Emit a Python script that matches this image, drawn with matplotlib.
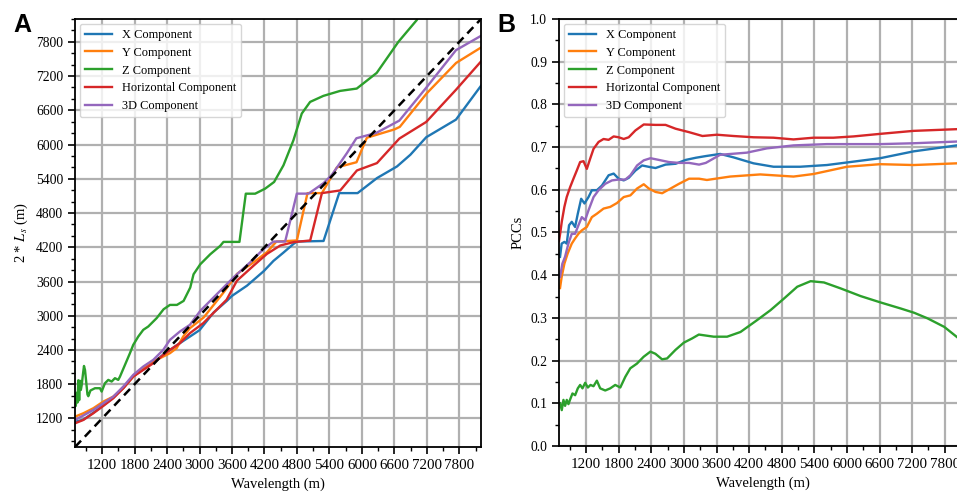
import matplotlib
matplotlib.use("Agg")
import matplotlib.pyplot as plt
from matplotlib.ticker import MultipleLocator, FormatStrFormatter

# ---------------- Panel A data ----------------
ax_x = [700, 854, 1038, 1223, 1407, 1592, 1776, 1961, 2146, 2330, 2454, 2638, 2831, 3000, 3138,
        3260, 3508, 3600, 3877, 4185, 4366, 4551, 4738, 4800, 5291, 5580, 5920, 6278, 6648, 6895,
        7188, 7738, 8200]
ax_y = [1140, 1180, 1300, 1430, 1565, 1735, 1940, 2060, 2180, 2320, 2400, 2520, 2640, 2747, 2911,
        3056, 3263, 3348, 3527, 3780, 3961, 4107, 4260, 4300, 4310, 5149, 5149, 5412, 5616, 5821,
        6128, 6437, 7030]

ay_x = [700, 854, 1038, 1223, 1407, 1592, 1776, 1961, 2146, 2330, 2454, 2577, 2699, 2823, 3077,
        3446, 3692, 4000, 4246, 4420, 4798, 4995, 5261, 5538, 5900, 6092, 6600, 6700, 7200, 7740, 8200]
ay_y = [1232, 1291, 1379, 1496, 1583, 1730, 1934, 2081, 2197, 2285, 2344, 2432, 2636, 2783, 2970,
        3410, 3733, 3938, 4114, 4300, 4319, 5149, 5149, 5600, 5690, 6120, 6265, 6310, 6900, 7430, 7700]

az_x = [700, 715, 731, 746, 762, 777, 792, 808, 823, 850, 866, 885, 903, 930, 946, 985, 1069, 1161,
        1192, 1254, 1315, 1377, 1438, 1499, 1531, 1623, 1715, 1776, 1869, 1961, 2053, 2208, 2337,
        2454, 2583, 2706, 2829, 2890, 3014, 3198, 3382, 3443, 3738, 3855, 4028, 4212, 4378, 4551,
        4735, 4889, 5043, 5289, 5597, 5905, 6274, 6674, 7012, 7200]
az_y = [1500, 1420, 1650, 1480, 1870, 1520, 1860, 1700, 1780, 2000, 2120, 2050, 1880, 1620, 1590,
        1690, 1730, 1730, 1671, 1818, 1876, 1847, 1906, 1876, 1934, 2139, 2344, 2490, 2636, 2753,
        2811, 2958, 3114, 3190, 3190, 3260, 3494, 3727, 3902, 4077, 4224, 4294, 4294, 5139, 5139,
        5227, 5344, 5636, 6075, 6543, 6747, 6853, 6940, 6981, 7256, 7800, 8180, 8500]

ah_x = [700, 854, 1038, 1223, 1407, 1592, 1776, 1961, 2146, 2330, 2454, 2638, 2823, 3069, 3315,
        3500, 3692, 4000, 4246, 4492, 4738, 5045, 5261, 5600, 5908, 6278, 6692, 7188, 7738, 8200]
ah_y = [1115, 1174, 1291, 1420, 1554, 1730, 1934, 2051, 2168, 2314, 2402, 2519, 2695, 2870, 3104,
        3280, 3615, 3879, 4084, 4231, 4290, 4319, 5149, 5196, 5546, 5675, 6105, 6396, 6960, 7456]

a3_x = [700, 854, 1038, 1223, 1407, 1592, 1776, 1961, 2146, 2330, 2454, 2638, 2823, 3015, 3323,
        3631, 3938, 4185, 4366, 4582, 4798, 5014, 5291, 5446, 5723, 5898, 6265, 6692, 7188, 7738, 8200]
a3_y = [1174, 1252, 1349, 1466, 1583, 1759, 1964, 2110, 2227, 2402, 2578, 2724, 2841, 3087, 3381,
        3674, 3938, 4172, 4300, 4300, 5140, 5140, 5324, 5470, 5850, 6110, 6204, 6420, 6996, 7654, 7905]

# ---------------- Panel B data ----------------
bx_x = [719, 749, 799, 842, 885, 935, 996, 1046, 1108, 1169, 1243, 1305, 1397, 1490, 1613, 1706,
        1798, 1891, 1983, 2106, 2230, 2384, 2476, 2661, 2847, 3032, 3217, 3402, 3666, 3911, 4280,
        4648, 5139, 5630, 6000, 6611, 7225, 8022, 8200]
bx_y = [0.443, 0.474, 0.478, 0.474, 0.517, 0.525, 0.513, 0.544, 0.579, 0.568, 0.583, 0.599, 0.599,
        0.610, 0.634, 0.638, 0.626, 0.622, 0.628, 0.645, 0.657, 0.653, 0.651, 0.659, 0.661, 0.670,
        0.675, 0.679, 0.684, 0.676, 0.662, 0.654, 0.654, 0.658, 0.664, 0.674, 0.690, 0.704, 0.706]

by_x = [719, 749, 799, 860, 935, 996, 1058, 1120, 1212, 1305, 1397, 1520, 1644, 1767, 1891, 2014,
        2137, 2260, 2353, 2476, 2599, 2754, 2908, 3093, 3278, 3422, 3850, 4403, 5016, 5384, 6000,
        6611, 7225, 8022, 8200]
by_y = [0.37, 0.396, 0.427, 0.451, 0.474, 0.486, 0.497, 0.505, 0.513, 0.536, 0.544, 0.556, 0.560,
        0.569, 0.583, 0.587, 0.603, 0.613, 0.603, 0.595, 0.592, 0.603, 0.614, 0.626, 0.626, 0.623,
        0.631, 0.636, 0.631, 0.637, 0.654, 0.660, 0.658, 0.662, 0.662]

bz_x = [720, 751, 782, 812, 843, 874, 905, 948, 997, 1046, 1089, 1132, 1182, 1231, 1280, 1335,
        1397, 1458, 1551, 1643, 1735, 1828, 1920, 2012, 2135, 2258, 2382, 2474, 2597, 2689, 2843,
        2997, 3151, 3274, 3548, 3794, 4040, 4348, 4592, 4838, 5085, 5331, 5577, 5885, 6253, 6623,
        6990, 7237, 7482, 7790, 8036, 8200]
bz_y = [0.100, 0.084, 0.108, 0.094, 0.108, 0.098, 0.109, 0.123, 0.119, 0.135, 0.143, 0.135, 0.148,
        0.137, 0.143, 0.140, 0.153, 0.135, 0.130, 0.135, 0.143, 0.137, 0.162, 0.182, 0.193, 0.209,
        0.221, 0.216, 0.203, 0.205, 0.225, 0.242, 0.252, 0.261, 0.256, 0.256, 0.267, 0.295, 0.318,
        0.345, 0.373, 0.386, 0.383, 0.369, 0.351, 0.336, 0.322, 0.312, 0.299, 0.279, 0.254, 0.240]

bh_x = [700, 722, 752, 799, 842, 904, 966, 1027, 1089, 1151, 1212, 1274, 1336, 1428, 1520, 1613,
        1706, 1798, 1891, 1983, 2106, 2260, 2476, 2661, 2847, 3093, 3340, 3605, 3911, 4280, 4648,
        5016, 5384, 5750, 6120, 6611, 7225, 8022, 8200]
bh_y = [0.48, 0.498, 0.526, 0.560, 0.583, 0.606, 0.626, 0.645, 0.665, 0.667, 0.649, 0.673, 0.696,
        0.712, 0.719, 0.717, 0.725, 0.723, 0.719, 0.723, 0.739, 0.753, 0.752, 0.752, 0.743, 0.735,
        0.726, 0.729, 0.726, 0.723, 0.722, 0.718, 0.722, 0.722, 0.725, 0.731, 0.738, 0.742, 0.743]

b3_x = [719, 762, 811, 873, 935, 996, 1058, 1120, 1181, 1243, 1336, 1428, 1551, 1675, 1798, 1921,
        2014, 2137, 2260, 2384, 2538, 2723, 2908, 3093, 3278, 3402, 3666, 4157, 4525, 5016, 5630,
        6611, 7225, 8022, 8200]
b3_y = [0.396, 0.427, 0.443, 0.474, 0.497, 0.497, 0.517, 0.536, 0.529, 0.552, 0.583, 0.599, 0.614,
        0.622, 0.624, 0.624, 0.634, 0.657, 0.669, 0.674, 0.670, 0.665, 0.663, 0.663, 0.659, 0.663,
        0.682, 0.687, 0.697, 0.704, 0.707, 0.707, 0.709, 0.713, 0.713]

labels = ["X Component", "Y Component", "Z Component", "Horizontal Component", "3D Component"]
colors = ["#1f77b4", "#ff7f0e", "#2ca02c", "#d62728", "#9467bd"]
xlim = (700, 8200)
major_x = 600
minor_x = 300

plt.rcParams['font.family'] = ['Liberation Serif', 'DejaVu Serif']
plt.rcParams['mathtext.fontset'] = 'stix'

fig = plt.figure(figsize=(9.57, 4.97), dpi=100)
axA = fig.add_axes([75 / 957, 50 / 497, 406 / 957, 428 / 497])
axB = fig.add_axes([559 / 957, 51 / 497, 407.5 / 957, 427 / 497])


def style(ax):
    ax.grid(True, which='major', color='#b0b0b0', linewidth=1.6)
    ax.set_axisbelow(True)
    ax.xaxis.set_major_locator(MultipleLocator(major_x))
    ax.xaxis.set_minor_locator(MultipleLocator(minor_x))
    ax.tick_params(which='major', length=5, width=1.2, direction='out')
    ax.tick_params(which='minor', length=3, width=1.0, direction='out')
    ax.tick_params(axis='x', which='major', labelsize=10.8)
    ax.tick_params(axis='y', which='major', labelsize=9.8)
    for s in ax.spines.values():
        s.set_linewidth(1.3)
    ax.set_xlabel("Wavelength (m)", fontsize=10.5)


def add_legend(ax):
    ax.legend(loc='upper left', fontsize=8.9, labelspacing=0.47, handlelength=2.2,
              borderaxespad=0.4, framealpha=0.8)


# Panel A
seriesA = [(ax_x, ax_y), (ay_x, ay_y), (az_x, az_y), (ah_x, ah_y), (a3_x, a3_y)]
for (xs, ys), c, lab in zip(seriesA, colors, labels):
    axA.plot(xs, ys, color=c, lw=1.7, label=lab)
axA.plot(xlim, xlim, color='black', lw=1.8, linestyle=(0, (3.5, 2.2)))
axA.set_xlim(*xlim)
axA.set_ylim(*xlim)
style(axA)
axA.yaxis.set_major_locator(MultipleLocator(600))
axA.yaxis.set_minor_locator(MultipleLocator(200))
axA.set_ylabel("2 * $L_s$ (m)", fontsize=10.5)
add_legend(axA)

# Panel B
seriesB = [(bx_x, bx_y), (by_x, by_y), (bz_x, bz_y), (bh_x, bh_y), (b3_x, b3_y)]
for (xs, ys), c, lab in zip(seriesB, colors, labels):
    axB.plot(xs, ys, color=c, lw=1.7, label=lab)
axB.set_xlim(*xlim)
axB.set_ylim(0, 1.0)
style(axB)
axB.yaxis.set_major_locator(MultipleLocator(0.1))
axB.yaxis.set_minor_locator(MultipleLocator(0.05))
axB.yaxis.set_major_formatter(FormatStrFormatter('%.1f'))
axB.set_ylabel("PCCs", fontsize=10.5)
add_legend(axB)

fig.text(13 / 957, 1 - 25 / 497, "A", fontsize=18, fontweight='bold',
         family=['Liberation Sans'], va='center', ha='left')
fig.text(497 / 957, 1 - 25 / 497, "B", fontsize=18, fontweight='bold',
         family=['Liberation Sans'], va='center', ha='left')

fig.savefig("out.png", dpi=100)
